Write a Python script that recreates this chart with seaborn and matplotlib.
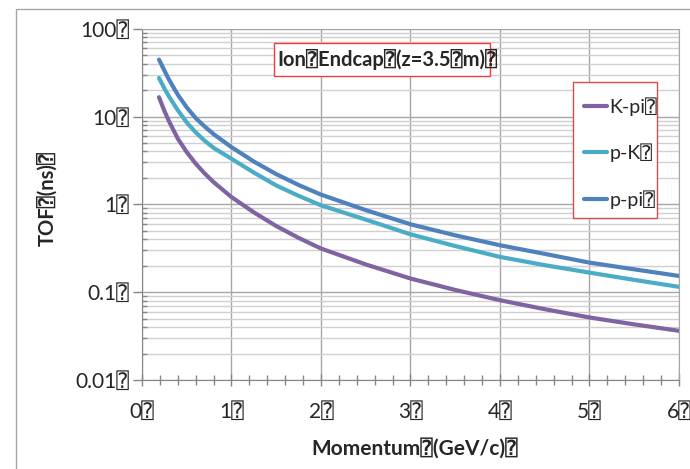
import pandas as pd
import matplotlib.pyplot as plt
import matplotlib.ticker as mticker
from matplotlib.patches import Rectangle
import seaborn as sns

# values
momentum = [0.19, 0.25, 0.3, 0.4, 0.5, 0.6, 0.7, 0.8, 1.0, 1.25, 1.5, 1.75,
            2.0, 2.5, 3.0, 3.5, 4.0, 4.5, 5.0, 5.5, 6.0]
tof_k_pi = [16.6, 11.6, 8.9, 5.6, 3.93, 2.91, 2.25, 1.79, 1.21, 0.81, 0.566, 0.415,
            0.314, 0.207, 0.143, 0.106, 0.081, 0.064, 0.0515, 0.043, 0.0363]
tof_p_k = [27.5, 20.9, 17.0, 11.8, 8.55, 6.6, 5.3, 4.4, 3.3, 2.3, 1.64, 1.25,
           0.975, 0.67, 0.456, 0.335, 0.252, 0.203, 0.167, 0.138, 0.115]
tof_p_pi = [44.5, 33.4, 26.5, 17.7, 12.7, 9.6, 7.7, 6.3, 4.48, 3.07, 2.21, 1.66,
            1.29, 0.86, 0.593, 0.444, 0.342, 0.273, 0.217, 0.182, 0.153]

series_names = ['K-pi⍰', 'p-K⍰', 'p-pi⍰']
series_colors = ['#8064A2', '#4BACC6', '#4F81BD']
x_ticks = [0, 1, 2, 3, 4, 5, 6]
x_labels = ['0⍰', '1⍰', '2⍰', '3⍰', '4⍰', '5⍰', '6⍰']
y_ticks = [0.01, 0.1, 1, 10, 100]
y_labels = ['0.01⍰', '0.1⍰', '1⍰', '10⍰', '100⍰']

df = pd.DataFrame({
    'Momentum': momentum * 3,
    'TOF': tof_k_pi + tof_p_k + tof_p_pi,
    'pair': [series_names[0]] * len(momentum) + [series_names[1]] * len(momentum)
            + [series_names[2]] * len(momentum),
})

sns.set_style('white')
plt.rcParams['font.family'] = ['Lato', 'DejaVu Sans', 'DejaVu Sans Mono']

fig = plt.figure(figsize=(6.9, 4.69), dpi=100)
ax = fig.add_axes([142 / 690, 1 - 380 / 469, 537 / 690, 351.3 / 469])

sns.lineplot(data=df, x='Momentum', y='TOF', hue='pair', hue_order=series_names,
             palette=series_colors, linewidth=3, ax=ax)

ax.set_yscale('log')
ax.set_xlim(0, 6)
ax.set_ylim(0.01, 100)

ax.set_xticks(x_ticks)
ax.set_xticklabels(x_labels)
ax.xaxis.set_minor_locator(mticker.MultipleLocator(0.2))
ax.set_yticks(y_ticks)
ax.set_yticklabels(y_labels)
ax.yaxis.set_minor_locator(mticker.LogLocator(base=10, subs=range(2, 10)))
ax.yaxis.set_minor_formatter(mticker.NullFormatter())

tick_col = '#868686'
ax.tick_params(axis='x', which='major', direction='inout', length=9, width=1,
               color=tick_col, labelsize=15, pad=11, bottom=True)
ax.tick_params(axis='x', which='minor', direction='inout', length=7, width=1,
               color=tick_col, bottom=True)
ax.tick_params(axis='y', which='major', direction='out', length=6.5, width=1,
               color=tick_col, labelsize=15, pad=3, left=True)
ax.tick_params(axis='y', which='minor', direction='in', length=3.6, width=1,
               color=tick_col, left=True)

ax.grid(which='major', axis='both', color='#A6A6A6', linewidth=1)
ax.grid(which='minor', axis='y', color='#D0D0D0', linewidth=1)
ax.set_axisbelow(True)
for side in ['left', 'bottom']:
    ax.spines[side].set_color(tick_col)
for side in ['top', 'right']:
    ax.spines[side].set_color('#A6A6A6')

ax.set_xlabel('Momentum⍰(GeV/c)⍰', fontsize=15, fontweight='bold')
ax.set_ylabel('TOF⍰(ns)⍰', fontsize=14.5, fontweight='bold')
ax.xaxis.set_label_coords(0.508, -0.163)
ax.yaxis.set_label_coords(-0.158, 0.517)

# legend: white box drawn by hand, entries from seaborn handles
ax.add_artist(Rectangle((573 / 690, 1 - 218 / 469), 84 / 690, 136 / 469,
                        transform=fig.transFigure, facecolor='white',
                        edgecolor='#D05050', linewidth=1, zorder=4))
handles, labels = ax.get_legend_handles_labels()
leg = ax.legend(handles, labels, loc='upper left', bbox_to_anchor=(0.823, 0.805),
                frameon=False, fontsize=14, labelspacing=1.43, borderpad=0,
                handlelength=1.2, handletextpad=0.1, borderaxespad=0)
leg.set_zorder(5)

# title box
fig.add_artist(Rectangle((274 / 690, 1 - 76 / 469), 216 / 690, 33 / 469,
                         transform=fig.transFigure, facecolor='white',
                         edgecolor='#F03C3C', linewidth=1))
fig.text(387 / 690, 1 - 59.5 / 469, 'Ion⍰Endcap⍰(z=3.5⍰m)⍰', ha='center', va='center',
         fontsize=14.5, fontweight='bold')

# outer chart frame
fig.add_artist(Rectangle((15.7 / 690, -0.2), 1.5, 1.2 - 9.3 / 469,
                         transform=fig.transFigure, fill=False,
                         edgecolor='#A6A6A6', linewidth=1))

fig.savefig('out.png', dpi=100)
